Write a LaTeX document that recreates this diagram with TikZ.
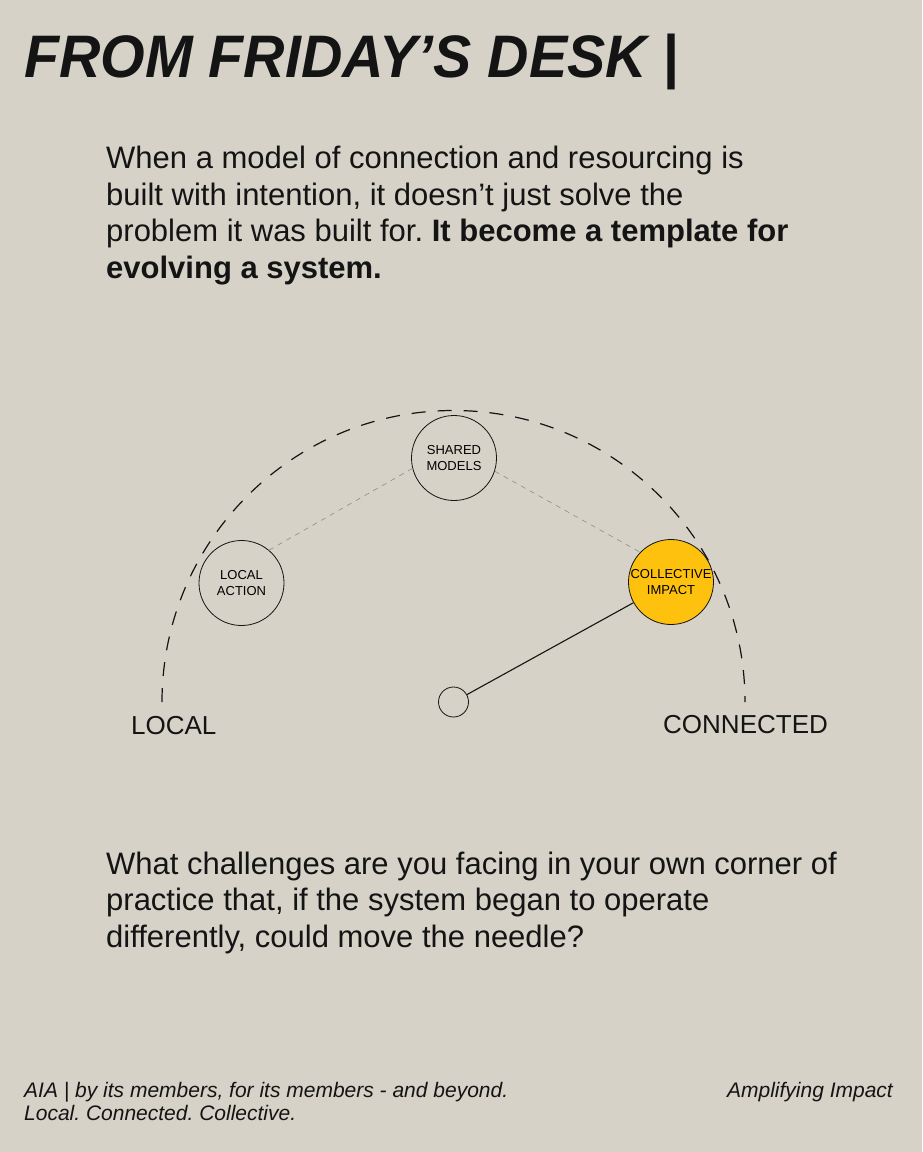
\documentclass[tikz,border=0pt]{standalone}
\usepackage{fontspec}
\setmainfont{Liberation Sans}
\newfontfamily\titlefont[FakeStretch=0.955]{Liberation Sans}
\usetikzlibrary{positioning}
\definecolor{papel}{HTML}{D6D2C8}
\definecolor{ambar}{HTML}{FEC20E}
\definecolor{tinta}{HTML}{141414}
\frenchspacing

\begin{document}
\begin{tikzpicture}[x=1pt,y=-1pt,
      txt/.style={inner sep=0pt,anchor=base west,align=left,text=tinta},
      body/.style={txt,font=\fontsize{31}{36.5}\selectfont},
      foot/.style={txt,font=\fontsize{21}{23}\selectfont\itshape},
      pole/.style={txt,font=\fontsize{26}{30}\selectfont},
      stage/.style={circle,draw=tinta,line width=0.8pt,minimum size=85pt,inner sep=0pt,
                    align=center,font=\fontsize{13}{16.5}\selectfont},
      link/.style={draw=black!45,line width=0.6pt,dash pattern=on 5pt off 5pt},
      rim/.style={draw=tinta,line width=1.2pt,dash pattern=on 14pt off 12pt}]
    \fill[papel] (0,0) rectangle (922,1152);
    \useasboundingbox (0,0) rectangle (922,1152);
    % header and text blocks (multi-line nodes sit on their last baseline)
    \node[txt,font=\titlefont\fontsize{60}{64}\selectfont\bfseries\itshape] (title) at (24,77) {FROM FRIDAY’S DESK |};
    \node[body] (intro) at (106,278) {When a model of connection and resourcing is\\
      built with intention, it doesn’t just solve the\\
      problem it was built for. \textbf{It become a template for}\\
      \textbf{evolving a system.}};
    \node[body] (ask) at (106,947) {What challenges are you facing in your own corner of\\
      practice that, if the system began to operate\\
      differently, could move the needle?};
    % gauge
    \node[circle,draw=tinta,line width=0.8pt,minimum size=30pt,inner sep=0pt] (hub) at (453.5,702) {};
    \node[stage] (shared) at (454,458) {SHARED\\MODELS};
    \node[stage] (localact) at (241.5,583) {LOCAL\\ACTION};
    \node[stage,fill=ambar] (collect) at (671,582) {COLLECTIVE\\IMPACT};
    \draw[rim] ([xshift=-291.5pt]hub.center) arc[start angle=180,end angle=360,radius=291.5];
    \draw[link] (localact.50) -- (shared.194);
    \draw[link] (shared.-18) -- (collect.136);
    \draw[tinta,line width=1.1pt] (hub) -- (collect);
    \node[pole] (lowend) at (131,734) {LOCAL};
    \node[pole] (highend) at (663,733) {CONNECTED};
    % footer
    \node[foot] (motto) at (24,1120) {AIA | by its members, for its members - and beyond.\\
      Local. Connected. Collective.};
    \node[foot,anchor=base east] (brand) at (893,1097) {Amplifying Impact};
  \end{tikzpicture}
\end{document}
